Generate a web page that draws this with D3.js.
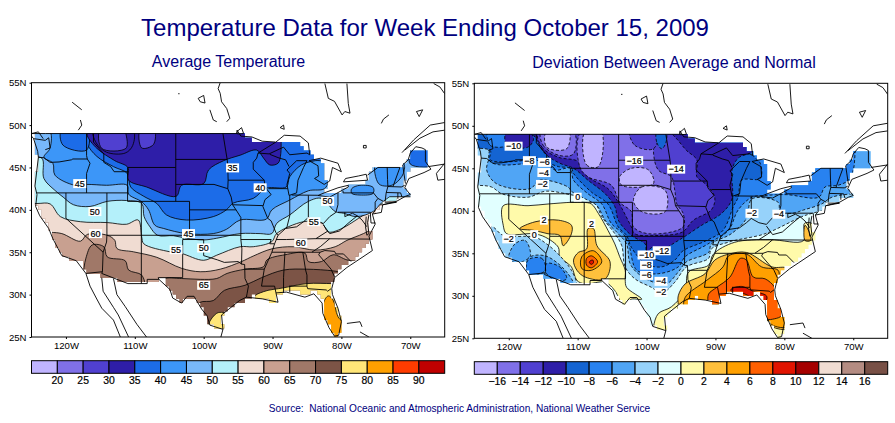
<!DOCTYPE html>
<html><head><meta charset="utf-8">
<script src="https://cdn.jsdelivr.net/npm/d3@7/dist/d3.min.js"></script>
<style>html,body{margin:0;background:#fff}svg{display:block}text{font-family:"Liberation Sans",Arial,sans-serif;white-space:pre}</style>
</head><body><svg id="c" width="895" height="423"></svg>
<script>
const titleText="Temperature Data for Week Ending October 15, 2009";
const leftTitle="Average Temperature";
const rightTitle="Deviation Between Average and Normal";
const sourceText="Source:  National Oceanic and Atmospheric Administration, National Weather Service";
const lonTicks=[-120,-110,-100,-90,-80,-70];
const latTicks=[25,30,35,40,45,50,55];
const leftLevels=[20,25,30,35,40,45,50,55,60,65,70,75,80,85,90];
const leftColors=["#c0b4ff","#8070e8","#5040d0","#2e1ea8","#1c6ce8","#3c96f8","#78b8fa","#b4f0fa","#f0dcd2","#c8a090","#a07868","#7c5446","#ffe678","#ffa000","#ff3c00","#c00000"];
const rightLevels=[-16,-14,-12,-10,-8,-6,-4,-2,0,2,4,6,8,10,12,14,16];
const rightColors=["#c0b4ff","#8070e8","#5040d0","#2e1ea8","#1464d2","#2882f0","#50a5f5","#96d2fa","#e1ffff","#fffaaa","#ffc03c","#ffa000","#ff6000","#e11400","#a50000","#f0dcd2","#b48c82","#785046"];

const usOutline=[[-124.7,49],[-95.2,49],[-94.2,48.8],[-92.5,48.15],[-88.9,48.15],[-87,48],[-85.8,47.65],[-84.6,46.65],[-83.8,46.2],[-82.4,45.5],[-82.4,43.5],[-81.9,42.9],[-83.1,41.75],[-80.7,41.9],[-78.8,42.9],[-76.8,42.9],[-75.8,44.3],[-75.1,45],[-71,45],[-70.3,45.9],[-69.6,47.05],[-67.6,47.05],[-67.5,45.2],[-70.3,44.7],[-70.5,43.9],[-71,42.7],[-70,41.75],[-73.9,40.8],[-75.4,39.6],[-76,39.2],[-75.6,36.4],[-76.8,35.25],[-78.3,34.1],[-80.7,32.7],[-81.4,31.3],[-81.4,29.75],[-80.9,29],[-80,26.6],[-80.4,25],[-81.2,25.4],[-81.9,26.6],[-82.5,27.4],[-82.6,29.35],[-83.8,30.35],[-85,30.2],[-87.4,30.35],[-89.4,30.15],[-89.8,29.05],[-90.9,29.35],[-92.8,29.8],[-94.7,29],[-96.6,28.4],[-97.4,27.4],[-97.2,25.9],[-99,26.4],[-99.6,27],[-100.5,29],[-102,29.75],[-103.2,29],[-104.6,30.15],[-105.8,31.9],[-109.2,31.3],[-111.6,31.5],[-115,32.3],[-117.1,32.5],[-117.7,33.9],[-119.9,34.3],[-121.6,36],[-122.3,37.6],[-123.3,39.2],[-124.3,40.8],[-124.5,43.1],[-124,45.5],[-124.7,48.4]];

// Left map regions (lon, lat)
const warm75Gulf=[[-92.8,29.6],[-91.3,30.35],[-88.4,30.8],[-85,31.3],[-81.2,31.3],[-78,31.3],[-78,24],[-92.8,24]];
const warm75Tex=[[-99.3,26.5],[-98.1,27.8],[-97.2,27.9],[-96.6,27.8],[-96.6,25],[-99.3,25]];
const warm80Fla=[[-82.6,29],[-81.9,29.85],[-81.2,29.35],[-80.5,27.4],[-79,26],[-81,24],[-82,25],[-82.6,27]];
const iso70=[[-130,28.5],[-101,28.5],[-100.5,29.1],[-98.6,29.3],[-97,30.5],[-94,31.1],[-91.6,32],[-88.4,32.9],[-85,33],[-81.2,32.8],[-79.2,32.5]];
const iso65=[[-130,30],[-106,30],[-105.8,31.8],[-103.2,31.9],[-100.5,31.8],[-98.1,31.9],[-96.6,32.5],[-94,33],[-91.3,33.3],[-90.8,34.1],[-88.2,34.7],[-85.3,34.9],[-84.8,33.9],[-82.9,33.9],[-81.2,34.7],[-79.2,34.1],[-77.3,33.9]];
const warm65Ariz=[[-117.5,32.1],[-117.1,34.3],[-116.2,35.85],[-114.5,35.65],[-114,34.45],[-111.4,34],[-110.9,32.9],[-109,32.3],[-108.7,30.9],[-117.5,30.9]];
const iso60=[[-130,37.6],[-122.3,37.35],[-120.6,37.2],[-117.9,36.3],[-116.9,37.1],[-114,37],[-112.9,36.4],[-112.6,35.45],[-110.2,35.05],[-106.8,34.4],[-103.2,33.1],[-100.5,32.7],[-97.6,33],[-94.5,33.9],[-92.8,34.55],[-90.1,35.4],[-87,35.65],[-83.8,35.25],[-80.9,35.65],[-79.2,36.4],[-76.8,37.2],[-74.9,38]];
const iso55=[[-130,40.7],[-124.2,40.75],[-122.3,40.7],[-120.8,39.2],[-117.9,38.6],[-114,38.5],[-111.2,38.3],[-109.5,38.8],[-109,36.8],[-108.7,36],[-104.9,35.05],[-103.2,34.85],[-100,34.05],[-98.1,34.65],[-94.7,35.65],[-92.8,35.65],[-90.1,36.25],[-89.4,37.2],[-85.5,38.6],[-82.9,38.5],[-81.9,37.4],[-80.2,37.7],[-77.5,39],[-74.9,40.4],[-73,41]];
const iso50=[[-126,46.1],[-123.5,46.1],[-123.2,43.7],[-121.6,42.3],[-120.4,41.5],[-118.9,40.6],[-116.5,40.4],[-114,41],[-111.2,41.1],[-109,40.75],[-108.65,39.2],[-107.8,38],[-106.7,37],[-104.4,36.95],[-102.5,36.65],[-100,36.45],[-98.1,36.65],[-94.7,37.2],[-91.8,37.2],[-90.1,37.2],[-89.4,38.4],[-87.5,39.4],[-84.8,41],[-82.9,41.35],[-80.9,39.8],[-79.7,39.6],[-77.8,39.2],[-75.4,39.8],[-74.2,40.8],[-73,41.55]];
const iso45=[[-130,49.5],[-122.5,49.5],[-122.3,47.3],[-123.2,46.2],[-121.9,45.5],[-121.6,44.1],[-118.7,42.9],[-117,43],[-114.1,42.9],[-111.1,42.9],[-110.9,41.85],[-109,40.95],[-108,40],[-107.1,38.2],[-105.8,37.8],[-102.5,37.2],[-98.6,37.2],[-96.7,37.7],[-94.7,38.8],[-90.9,38.9],[-90.1,40],[-87.5,41.15],[-84.8,42.25],[-82.3,42.6],[-81.8,46],[-81.8,52]];
const cold45North=[[-75,45.5],[-71,45.5],[-71,44.3],[-72.2,43.1],[-73.4,42.8],[-74.6,43.1]];
const cold45Stripe=[[-78.5,42.5],[-77.3,42.9],[-75.4,42.65],[-75.4,41.95],[-77.3,41.75],[-78.5,41.95]];
const iso40=[[-130,49.3],[-116.9,49.3],[-116.9,47.8],[-115.5,46.3],[-113.1,45.1],[-111.1,44.3],[-110.6,42.7],[-108.7,41.6],[-106.8,40.75],[-105.4,39.4],[-102.5,38.8],[-98.6,39.2],[-96.7,40],[-95.7,40.8],[-92.8,41.35],[-90.9,42.55],[-88,42.7],[-87.5,43.9],[-85.8,45.3],[-83.8,45.8],[-81.7,45.9],[-81,48.6],[-81,52.6]];
const cold40West=[[-120.6,49.5],[-120.45,47.65],[-117,47.05],[-116.9,49.5]];
const cold40Maine=[[-70,45.4],[-69.6,47.5],[-66,47.5],[-66,45.4]];
const iso35=[[-130,49.3],[-116.9,49.3],[-116.9,48.75],[-115.5,47.25],[-112.9,45.8],[-111,45],[-110.9,43.5],[-108.3,42.7],[-104,41.6],[-103.2,42.9],[-100,43.1],[-99.3,44.7],[-97.1,45.8],[-94.7,46.45],[-92.3,47.05],[-91.3,46.1],[-90.4,45.3],[-89.2,45.5],[-88.8,46.65],[-88.8,49.4]];
const cold35Inner=[[-116,49.5],[-115.6,47.9],[-114.1,46.8],[-111.4,46.7],[-110.3,47.6],[-110.3,49.5]];
const cold30A=[[-115,49.5],[-114.8,47.25],[-111.3,47.25],[-111.2,48.6],[-111.7,49.5]];
const cold30B=[[-109.2,49.5],[-109,47.3],[-107.3,47.7],[-107.2,49.5]];
const leftLayers=[[12,warm75Gulf,0],[12,warm75Tex,0],[13,warm80Fla,0],[10,iso70,1],[9,iso65,1],[10,warm65Ariz,0],[8,iso60,1],[7,iso55,1],[6,iso50,1],[5,iso45,1],[5,cold45North,0],[5,cold45Stripe,0],[4,iso40,1],[4,cold40West,0],[4,cold40Maine,0],[3,iso35,1],[3,cold35Inner,0],[2,cold30A,0],[2,cold30B,0]];
const leftLabels=[["45",-118,43.1],["50",-115.8,39.8],["60",-115.7,37.2],["45",-102.2,37.2],["50",-100,35.5],["55",-104,35.3],["65",-100,31.1],["35",-95.8,44.95],["40",-91.8,42.6],["50",-82,41],["55",-84,38.6],["60",-85.9,36.1]];

// Right map regions
const posSW=[[-120.8,40.6],[-120.8,38.3],[-120.3,37.3],[-116.4,37.3],[-114.7,36.9],[-112.8,35.7],[-112.6,34.6],[-110.9,33.4],[-110.1,31.8],[-108.9,31.4],[-106,31.6],[-104.6,30.6],[-103.3,28.8],[-102.2,29.6],[-100.7,29.6],[-102.9,31],[-103.1,31.9],[-103.1,33],[-103.9,34.6],[-104.6,36.1],[-105.6,37.7],[-107,39.7],[-108,40.8],[-109.2,41],[-110.9,41],[-114.3,40.8],[-117.2,40.6]];
const posSE=[[-99,26.3],[-98.3,27.9],[-96.4,28.7],[-94.4,30.6],[-93.9,32.8],[-91,33.6],[-90.3,34.9],[-87.2,36.3],[-82.1,36.6],[-77.2,36.5],[-77.1,38.5],[-76.3,38.6],[-74.6,37.7],[-74.6,33],[-76,25.1],[-80.9,24],[-97.8,24],[-99,25.1]];
const pos2Gulf=[[-95.4,29],[-95.4,30],[-94.4,31.4],[-91.5,32.6],[-90.1,34.2],[-88.1,34.9],[-85.5,35.1],[-81.8,33.4],[-79.5,33.2],[-78.9,31],[-78.9,26.3],[-81.6,26.3],[-83.8,28.3],[-95.4,28.3]];
const pos2Virg=[[-77,38.3],[-76.3,37.3],[-76.2,36.5],[-77,36.5]];
const pos4Gulf=[[-94.4,29.8],[-91.3,31.8],[-88.9,33.4],[-88.1,34.7],[-85.5,34.9],[-83.3,33.4],[-80.9,33],[-80.7,31.4],[-78.9,29.8],[-78.9,26.5],[-81.6,26.5],[-83,28],[-83.5,29],[-90,28.5],[-94.4,28.5]];
const pos6Gulf=[[-91,29.2],[-91,30.2],[-89.8,31],[-87.9,32.2],[-86.4,34.4],[-85.5,34.2],[-84.5,32.2],[-82.8,32],[-81.4,31],[-80.9,29.8],[-80.4,27.7],[-81.4,27.3],[-82.6,27.3],[-83.3,29],[-90.6,29]];
const pos8Gulf=[[-87.7,30.8],[-86.2,31.1],[-84.7,30.6],[-82.6,30],[-82.6,29.5],[-83.5,29.2],[-85.7,30.2],[-87.7,30.5]];
const pos2West=[[-118.4,37.9],[-116.2,38.7],[-112.8,38.9],[-110.9,38.3],[-110.9,37.3],[-112.1,35.9],[-112.6,37.1],[-114.3,37.3],[-116.4,37.7]];
const pos2NM=[[-110.6,34.2],[-109.9,35.1],[-108.7,35.5],[-108.5,37.9],[-107.7,37.9],[-107.2,35.9],[-105.3,34],[-106,32],[-108.9,32.2],[-110.1,33]];
const pos4NM=[[-109.4,34.6],[-107.7,35.3],[-106.5,34],[-108,33],[-109.4,33.2]];
const pos6NM=[[-108.7,34.4],[-108,34.7],[-107.1,34],[-108,33.3],[-108.7,33.6]];
const pos8NM=[[-108.2,34.1],[-107.8,34.2],[-107.7,33.9],[-108,33.7],[-108.3,33.9]];
const neg2=[[-130,43],[-124.5,43],[-122.5,42.8],[-121,42],[-117.2,41.6],[-114.7,42.3],[-111.1,41.9],[-107.7,41.2],[-106.5,39.3],[-104.6,37.3],[-103.6,35.9],[-103.1,33.4],[-101.7,32],[-99.3,31],[-97.8,30.3],[-95.9,31.6],[-94.2,33.4],[-91,34.4],[-90.6,35.5],[-87.7,36.4],[-82.8,37.3],[-77.5,39.3],[-76,39.7],[-74.6,40],[-72.2,40.8]];
const neg2SW=[[-122.5,38.1],[-120.8,37.1],[-116.2,36.9],[-114.5,36.1],[-112.8,34.9],[-110.9,33],[-110.1,31.4],[-110.1,30.6],[-124.4,30.6],[-124.4,34.6]];
const neg4=[[-130,49.3],[-122.7,49.3],[-122.7,46.7],[-123.2,44.8],[-121.8,43.2],[-116.9,42.6],[-115.5,43.6],[-111.4,42.8],[-110.9,42.3],[-108.9,41.4],[-107.2,40.6],[-106,38.9],[-104.1,37.3],[-102.9,36.1],[-102.4,33.8],[-101.2,32.6],[-99,31.6],[-97.1,31.4],[-95.4,32.8],[-94.2,34],[-91,35.1],[-90.6,36.1],[-87.7,37.3],[-85.5,39.1],[-84.7,41.4],[-80.9,41],[-80.6,39.9],[-78.9,39.7],[-77.2,40.1],[-74.6,40.8],[-73.1,41.6],[-70,42],[-68,42]];
const neg4SWa=[[-119.1,36.1],[-117.6,36.5],[-116.9,34.6],[-118.9,33.9],[-120,34.4]];
const neg4SWb=[[-117.2,34.4],[-114.7,34.7],[-111.4,32.6],[-110.6,31],[-117.2,31]];
const neg6SWa=[[-117.2,34.2],[-115.2,34.4],[-114.7,33],[-117.2,32.4]];
const neg6SWb=[[-114.5,33.8],[-112.6,33.4],[-111.6,32],[-113,31.8],[-114.5,32.6]];
const neg6=[[-130,49.3],[-122.7,49.3],[-122.7,45.8],[-117.2,45.6],[-115,46],[-113.3,44.8],[-111.1,45],[-110.6,43.6],[-108.5,42],[-106.5,40.8],[-105.1,38.5],[-103.4,37.3],[-102.6,36.1],[-101.4,33],[-98.3,32.6],[-95.4,33.4],[-94.4,34.6],[-91.5,35.9],[-90.3,36.5],[-88.1,37.7],[-86.7,40.1],[-84.7,41.6],[-82.8,41.8],[-79.7,41.9],[-75,41.6],[-74.1,42.8],[-72.2,43],[-70.7,43.6],[-70,44.8],[-69.7,47.1],[-69.3,50.7]];
const neg8=[[-130,47.1],[-122.7,47.1],[-122.7,46],[-117.2,46],[-116.2,46.3],[-114.7,45.8],[-112.8,45.2],[-110.9,45],[-110.6,44.4],[-108,42.2],[-105.6,40.8],[-104.1,38.1],[-102.9,37.1],[-102.2,35.7],[-100.2,33.8],[-97.8,33.4],[-95.9,34.2],[-94.7,35.3],[-91.3,36.5],[-88.9,37.7],[-87.4,40.5],[-86.7,41.6],[-86.2,43.6],[-83.5,43.8],[-83.5,45.6],[-84.5,46.5],[-84.7,48.7],[-84.7,52.6]];
const neg6NW=[[-123,49.5],[-122.7,47.7],[-120.3,47.7],[-120.3,49.5]];
const neg10=[[-130,49.4],[-117.2,49.4],[-116.4,48.9],[-114.7,46.7],[-112.6,45.6],[-110.6,45],[-108.5,43.6],[-106,42],[-104.6,40.5],[-104.1,38.9],[-102.2,37.1],[-100.2,36.1],[-100,35.1],[-99.2,35.7],[-98.3,35.3],[-95.4,36.5],[-92,38.3],[-89.1,39.7],[-87.6,41.4],[-87.6,44.8],[-86.7,46.2],[-84.5,47.1],[-84.5,49.5],[-84.5,52.6]];
const neg10NW=[[-120.3,49.4],[-120.3,47.7],[-117.2,47.5],[-116.4,48.5],[-117.2,49.4]];
const neg12=[[-115.7,49.4],[-115.2,47.5],[-112.8,46.3],[-109.9,45.8],[-108.5,44],[-105.6,42.6],[-104.1,41],[-102.2,38.1],[-101.7,37.3],[-98.3,37.1],[-94.8,37.5],[-93.2,38.9],[-90.6,40.1],[-90.1,41.6],[-91.5,43.2],[-92.7,44],[-92.7,46],[-94.2,47.1],[-95.9,48.7],[-97,49.4]];
const neg14=[[-109.4,49.4],[-109.7,45.2],[-108.5,44],[-105.1,43],[-103.9,41],[-102.2,39.9],[-101.9,38.1],[-99.7,37.3],[-94.7,38.1],[-94.7,39.7],[-95.6,40.8],[-95.9,42.4],[-96.4,44],[-98.3,44.8],[-99,47.1],[-98.5,49.4]];
const neg14Idaho=[[-115.3,49.4],[-115,47.7],[-112.6,46.5],[-110.6,46.7],[-110.6,49.4]];
const neg12Dak=[[-102.4,49.4],[-101.7,47.7],[-99,47.3],[-98.3,49.4]];
const neg8Oval=[[-98.5,49.4],[-98.5,48],[-97.8,47.3],[-97.2,48],[-97.2,49.4]];
const neg16A=[[-114.5,49.4],[-114.5,47.5],[-111.6,47.3],[-111.3,49.4]];
const neg16B=[[-108.9,49.4],[-108.7,45.4],[-107,45.2],[-106.6,49.4]];
const neg16C=[[-103.9,44],[-102.2,45],[-99.7,44.8],[-99,43.2],[-103.6,43]];
const neg16D=[[-101.9,41.2],[-100.7,42.8],[-97.3,42.4],[-97.3,39.9],[-100.7,39.9]];
const rightLayers=[[9,posSW,0],[9,posSE,0],[10,pos2Gulf,0],[10,pos2Virg,0],[11,pos4Gulf,0],[12,pos6Gulf,0],[13,pos8Gulf,0],[10,pos2West,0],[10,pos2NM,0],[11,pos4NM,0],[12,pos6NM,0],[13,pos8NM,0],
[7,neg2,1],[7,neg2SW,0],[6,neg4SWa,0],[6,neg4SWb,0],[5,neg6SWa,0],[5,neg6SWb,0],[6,neg4,1],[5,neg6,1],[4,neg8,1],[5,neg6NW,0],[3,neg10,1],[3,neg10NW,0],[2,neg12,0],[1,neg14,0],[1,neg14Idaho,0],[2,neg12Dak,0],[4,neg8Oval,0],[0,neg16A,0],[0,neg16B,0],[0,neg16C,0],[0,neg16D,0]];
const rightLabels=[["−10",-119.3,47.6],["−8",-117,45.9],["−6",-114.8,45.7],["−4",-114.9,44.5],["−2",-115.1,43.1],["0",-110,41.6],["−16",-101.8,45.9],["−14",-95.7,44.9],["2",-114.9,38.9],["2",-108,38.5],["−2",-120,36.7],["0",-116.3,37.2],["−2",-84.7,39.7],["−4",-80.8,39.6],["−12",-97.8,35.3],["−10",-100,34.8],["−8",-100,33.6],["−6",-100,32.4],["−4",-97.9,31.7],["−2",-97.9,30.4]];

// Boundaries
const stateLines=[
[[-124,46.2],[-123.2,46.15],[-122.3,45.6],[-121,45.65],[-119.2,45.9],[-119,46],[-116.9,46]],
[[-117,49],[-117,46.4],[-116.9,46],[-116.5,45.5],[-117,44.3],[-117,42]],
[[-116,49],[-116,48],[-114.5,46.6],[-114.5,45.6],[-113.5,45.1],[-113,44.5],[-111.05,44.5]],
[[-124.2,42],[-111.05,42]],[[-120,42],[-120,39],[-114.6,35],[-114.7,32.7]],[[-114.6,35],[-114.1,36.2],[-114.05,37]],
[[-114.05,37],[-94.6,37]],[[-103,37],[-103,36.5],[-100,36.5],[-100,34.6],[-98,34.1],[-97,33.8],[-95,33.9],[-94.5,33.6],[-94.05,33.55]],
[[-114.05,42],[-114.05,37]],[[-111.05,45],[-111.05,41],[-109.05,41],[-109.05,31.3]],[[-111.05,45],[-104.05,45],[-104.05,41]],[[-109.05,41],[-102.05,41],[-102.05,37]],
[[-104.05,49],[-104.05,45]],[[-104.05,45.95],[-96.6,45.95]],[[-104.05,43],[-98.5,43],[-96.5,42.5]],[[-102.05,40],[-95.3,40]],
[[-103.05,36.5],[-103.05,32],[-106.6,32],[-106.5,31.8]],[[-97.2,49],[-96.6,46],[-96.5,45.3],[-96.45,43.5],[-96.5,42.5],[-96,41.5],[-95.8,40.6],[-95.3,40],[-94.6,39.1],[-94.6,36.5],[-94.45,35.4],[-94.5,33.6]],
[[-96.45,43.5],[-91.2,43.5]],[[-92.1,46.7],[-92.3,46.1],[-92.8,45.6],[-92.8,44.8],[-91.2,43.5],[-91.1,42.7],[-90.2,41.8],[-91.1,41.2],[-91.4,40.4],[-90.7,39],[-90.2,38.7],[-89.5,37.3],[-89.2,37],[-89.7,36],[-90.1,35],[-91.2,33],[-91.6,31],[-89.7,31],[-89.5,30.2]],
[[-95.8,40.6],[-91.4,40.5]],[[-94.6,36.5],[-90.2,36.5],[-90.4,36],[-89.7,36]],[[-94.05,33],[-91.2,33]],[[-94.05,33.55],[-94,31.9],[-93.5,31],[-93.7,30.1],[-93.8,29.7]],
[[-90.6,42.5],[-87.8,42.5]],[[-87.6,45.1],[-88.1,45.9],[-89,46.1],[-90.4,46.55]],[[-87.5,41.7],[-87.5,39.3],[-87.9,38],[-88.1,37.8]],
[[-89.2,37],[-88.1,37.8],[-86.5,38],[-85.5,38.6],[-84.8,39.1],[-83.7,38.6],[-82.6,38.4],[-81.7,39.2],[-80.8,39.7],[-80.5,40.6]],
[[-84.8,39.1],[-84.8,41.7]],[[-87.2,41.75],[-83.4,41.72]],[[-80.5,40.6],[-80.5,42]],[[-79.76,42.25],[-79.76,42],[-75.35,42],[-74.7,41.35],[-73.9,41]],
[[-80.5,39.72],[-75.8,39.72]],[[-79.5,39.72],[-79.5,39.2],[-78.4,39.6],[-77.7,39.3],[-78.9,38.5],[-80.3,37.5],[-81.7,37.2],[-82.6,38.2]],
[[-81.97,37.5],[-83.7,36.6]],[[-89.5,36.5],[-88,36.5],[-83.7,36.6],[-75.9,36.55]],[[-90.1,35],[-84.3,35],[-83,35.7],[-81.7,36.6]],
[[-84.3,35],[-83.1,35],[-82.4,35.2],[-81,35.1],[-80.8,34.8],[-79.7,34.8],[-78.6,33.9]],[[-83.1,35],[-83.3,34.7],[-81.5,33],[-81,32.1]],
[[-85.6,35],[-85.2,32.9],[-85,32.3],[-85,31],[-84.9,30.7],[-82.2,30.55],[-82,30.4],[-81.5,30.7]],[[-87.6,31],[-85,31]],[[-88.2,35],[-88.4,32],[-88.4,30.2]],[[-87.5,31],[-87.5,30.3]],
[[-76.2,44.1],[-74.7,45],[-71.5,45]],[[-73.35,45],[-73.3,43.6],[-73.25,42.75],[-73.5,42],[-73.65,41]],[[-71.5,45],[-72.4,43],[-72.5,42.75]],[[-71.1,45.3],[-70.7,43.1]],
[[-73.25,42.75],[-71.3,42.7],[-70.8,42.9]],[[-73.5,42.05],[-71.4,42],[-71.2,41.5]],[[-71.8,42],[-71.8,41.3]],[[-74.7,41.35],[-75.1,40.9],[-75.1,39.9],[-75.5,39.5]],
[[-75.8,39.7],[-75.7,38.45],[-75.05,38.45]],[[-76.4,39.2],[-76.5,38],[-76.3,37],[-76,37.2],[-76.2,38.5],[-76,39.4]],[[-77.7,39.3],[-77,38.8],[-76.3,38]],
[[-71.1,45.3],[-70.3,45.9],[-70,46.7],[-69.2,47.45],[-68.3,47.3],[-67.8,47.1],[-67.8,45.7],[-67,44.8]],
[[-125,49],[-123,49],[-95.15,49],[-95.15,49.4],[-94.6,48.7],[-93,48.6],[-91.5,48.1],[-89.6,48]],
[[-117.1,32.5],[-114.7,32.7],[-114.8,32.5],[-111,31.3],[-108.2,31.3],[-108.2,31.8],[-106.5,31.8],[-104.9,30.6],[-104.5,29.6],[-103.2,29],[-102.4,29.8],[-101.4,29.8],[-100.3,28.3],[-99.5,27.5],[-99.1,26.4],[-97.2,25.9]]];
const coastLines=[
[[-125,48.7],[-124.7,48.4],[-124.1,46.9],[-124,46.2],[-124.5,42.8],[-124.2,41.8],[-124.4,40.4],[-123.8,39.3],[-122.5,37.8],[-121.9,36.6],[-120.6,34.6],[-118.5,34],[-117.1,32.5],[-116.5,31],[-115.6,29.6],[-114.8,28.4],[-113.1,27],[-112.1,25]],
[[-125,49],[-124,49.2],[-123.3,48.4]],[[-124.7,48.4],[-123,48.2],[-122.5,48.5],[-122.3,47.3],[-123,47.1]],
[[-114.8,32],[-114.6,30.4],[-113.1,28.5],[-112.4,27.6],[-110.9,25]],[[-113.1,31.9],[-112.6,30],[-111.4,28.6],[-109.7,26.5],[-108.3,25]],
[[-97.2,25.9],[-97.4,27.6],[-94.8,29.3],[-93.8,29.7],[-91.5,29.5],[-89.2,29.1],[-89.5,30.2],[-88,30.3],[-85.3,29.7],[-84,30.1],[-82.8,29],[-82.7,27.8],[-81.8,26.1],[-81,25.1],[-80.4,25.2],[-80,26.8],[-80.5,28.4],[-81.3,30],[-81.4,30.7],[-81,32],[-79.2,33.2],[-77.9,33.9],[-75.5,35.2],[-76,36.9],[-75.1,38.3],[-75.5,39.5],[-74.2,39.7],[-74,40.6],[-72,41],[-70.7,41.6],[-70,41.8],[-70.8,42.6],[-70.2,43.7],[-68,44.4],[-67,44.8]],
[[-97.2,25.9],[-97.5,25]],[[-74,40.6],[-72,40.9],[-73.7,40.9]],
[[-92.1,46.7],[-90.5,46.6],[-88.4,47.4],[-87.5,46.5],[-85,46.7],[-84.6,46.5],[-84.8,47.9],[-86,48.7],[-88.3,48.8],[-89.5,48],[-92.1,46.7]],
[[-87.6,41.7],[-86.5,42],[-86.3,43.5],[-85.5,45],[-85,45.8],[-86.5,45.8],[-87.9,44.7],[-87.5,44.3],[-87.9,43],[-87.6,41.7]],
[[-84.7,45.8],[-83.4,45.2],[-83.3,44],[-83.9,43.7],[-82.5,43],[-81.7,43.4],[-81.3,45],[-80,44.5],[-80.5,45.5],[-83,46.1],[-84.7,45.8]],
[[-83.4,41.7],[-81.7,41.5],[-79,42.7],[-79,42.9],[-80.5,42.6],[-82.5,42],[-83.4,41.7]],
[[-79.7,43.3],[-76.2,43.5],[-76.4,44.2],[-77.5,44],[-79.4,43.7],[-79.7,43.3]],
[[-82.4,54.9],[-81.9,53.15],[-81,52.8],[-79.9,51.2],[-79.5,51.6],[-78.75,51.4],[-79,52.55],[-79.2,54.9]],
[[-97.9,54.3],[-97.6,53.75],[-97.4,52.75],[-96.65,51.95],[-96.2,50.8],[-96.65,50.4]],[[-99.1,51.8],[-98.6,50.6],[-98.1,50.4]],[[-97.9,54.3],[-97.6,55]],
[[-100.8,53.15],[-100,53.5],[-99.8,52.6],[-100.5,52.75],[-100.8,53.15]],[[-95.2,49.2],[-94.5,49.7],[-94.2,49],[-95.1,48.95],[-95.2,49.2]],
[[-88.4,50],[-88.9,49.7],[-88.3,49.5],[-88.4,50]],[[-74.2,50.2],[-73.9,50.7],[-73.1,51.2]],[[-69.1,51.6],[-68.2,51.8],[-68.7,51],[-69.1,51.6]],
[[-76.8,47.6],[-76.4,47.6],[-76.4,47.3],[-76.8,47.3],[-76.8,47.6]],[[-103.7,53.7],[-103.5,53.7]],[[-119.1,52.7],[-117.7,51.8]],[[-117.9,50.6],[-117.7,50],[-118.2,49.4]],
[[-71.2,46.75],[-69.5,48.25],[-67.1,50],[-65,50.3]],[[-70.8,47.05],[-68.6,48.45],[-66.7,49.2],[-65,49.4]],[[-67.4,45.1],[-65,45.4]],[[-65,45.5],[-66.2,44.3],[-66,43.5],[-65,43.6]],
[[-66.6,54.9],[-65.7,54.5],[-65,53.7]],[[-79.2,26.6],[-77.3,26.8],[-77,26.2]],[[-77.3,25.6],[-76,25]]];

const svg=d3.select("#c");
const navy="#000080";
svg.append("text").attr("x",425).attr("y",36).attr("text-anchor","middle").attr("font-size",24).attr("fill",navy).text(titleText);
svg.append("text").attr("x",228.5).attr("y",67).attr("text-anchor","middle").attr("font-size",16).attr("fill",navy).text(leftTitle);
svg.append("text").attr("x",674).attr("y",68).attr("text-anchor","middle").attr("font-size",16).attr("fill",navy).text(rightTitle);
svg.append("text").attr("x",459.5).attr("y",412).attr("text-anchor","middle").attr("font-size",10.1).attr("fill",navy).text(sourceText);

// cells of the data grid that fall on land: gives the blocky edge of the gridded field
const cellLons=d3.range(-125,-65,0.5), cellLats=d3.range(25,55,0.5);
const landCells=d3.cross(cellLons,cellLats).filter(c=>d3.polygonContains(usOutline,[c[0]+.25,c[1]+.25]));

function panel(id,xr,yr,layers,colors,baseBand,labels,levels,dashed,legY){
  const x=d3.scaleLinear().domain([-125,-65]).range(xr);
  const y=d3.scaleLinear().domain([25,55]).range(yr);
  const g=svg.append("g");
  g.append("clipPath").attr("id","frame"+id).append("rect").attr("x",xr[0]).attr("y",yr[1]).attr("width",xr[1]-xr[0]).attr("height",yr[0]-yr[1]);
  const cellPath=d3.path();
  landCells.forEach(c=>cellPath.rect(x(c[0]),y(c[1]+.5),x(c[0]+.5)-x(c[0]),y(c[1])-y(c[1]+.5)));
  g.append("clipPath").attr("id","land"+id).append("path").attr("d",cellPath.toString());
  const field=g.append("g").attr("clip-path",`url(#land${id})`);
  field.append("rect").attr("x",xr[0]).attr("y",yr[1]).attr("width",xr[1]-xr[0]).attr("height",yr[0]-yr[1]).attr("fill",colors[baseBand]);
  const open=d3.line().x(d=>x(d[0])).y(d=>y(d[1])).curve(d3.curveCatmullRom.alpha(.5));
  const closed=d3.line().x(d=>x(d[0])).y(d=>y(d[1])).curve(d3.curveCatmullRomClosed.alpha(.5));
  const straight=d3.line().x(d=>x(d[0])).y(d=>y(d[1]));
  layers.forEach(([band,pts,isOpen])=>{
    let dStr, last=pts[pts.length-1];
    if(isOpen){
      const cap=[[-62,last[1]],[-60,60],[-130,60]];
      dStr=open(pts)+"L"+cap.map(c=>x(c[0])+","+y(c[1])).join("L")+"Z";
    } else dStr=closed(pts)+"Z";
    const neg=dashed && band<=8;
    field.append("path").attr("d",dStr).attr("fill",colors[band]).attr("stroke","#000").attr("stroke-width",.8)
      .attr("stroke-dasharray",neg?"3,2":null);
  });
  const lines=g.append("g").attr("clip-path",`url(#frame${id})`).attr("fill","none").attr("stroke","#000").attr("stroke-width",.9);
  lines.selectAll("path.c").data(coastLines).join("path").attr("class","c").attr("d",straight);
  lines.selectAll("path.s").data(stateLines).join("path").attr("class","s").attr("d",straight);
  const lab=g.append("g").attr("clip-path",`url(#frame${id})`);
  labels.forEach(([t,lon,lat])=>{
    const w=t.length*5+3;
    lab.append("rect").attr("x",x(lon)-w/2).attr("y",y(lat)-4.5).attr("width",w).attr("height",9).attr("fill","#fff");
    lab.append("text").attr("x",x(lon)).attr("y",y(lat)+3).attr("text-anchor","middle").attr("font-size",9).attr("stroke","#000").attr("stroke-width",.2).text(t);
  });
  g.append("rect").attr("x",xr[0]).attr("y",yr[1]).attr("width",xr[1]-xr[0]).attr("height",yr[0]-yr[1]).attr("fill","none").attr("stroke","#000").attr("stroke-width",1);
  const ax=g.append("g").attr("transform",`translate(0,${yr[0]})`).call(d3.axisBottom(x).tickValues(lonTicks).tickSize(2).tickFormat(d=>(-d)+"W"));
  const ay=g.append("g").attr("transform",`translate(${xr[0]},0)`).call(d3.axisLeft(y).tickValues(latTicks).tickSize(2).tickFormat(d=>d+"N"));
  [ax,ay].forEach(a=>{a.select(".domain").remove();a.selectAll("text").attr("font-size",9.6).attr("font-family",'"Liberation Sans",Arial,sans-serif').attr("fill","#000");});
  // colour key
  const k=d3.scaleBand().domain(d3.range(colors.length)).range(xr);
  const key=g.append("g");
  key.selectAll("rect").data(colors).join("rect").attr("x",(d,i)=>k(i)).attr("y",legY).attr("width",k.bandwidth()).attr("height",12.6).attr("fill",d=>d).attr("stroke","#000").attr("stroke-width",1);
  key.selectAll("text").data(levels).join("text").attr("x",(d,i)=>k(i+1)).attr("y",legY+23).attr("text-anchor","middle").attr("font-size",10.4).attr("stroke","#000").attr("stroke-width",.2)
    .text(d=>d<0?"−"+(-d):d);
}
panel("L",[31.5,444.7],[337,82.7],leftLayers,leftColors,11,leftLabels,leftLevels,false,360.7);
panel("R",[474.3,887.7],[338.3,83.3],rightLayers,rightColors,8,rightLabels,rightLevels,true,361.7);
</script></body></html>
